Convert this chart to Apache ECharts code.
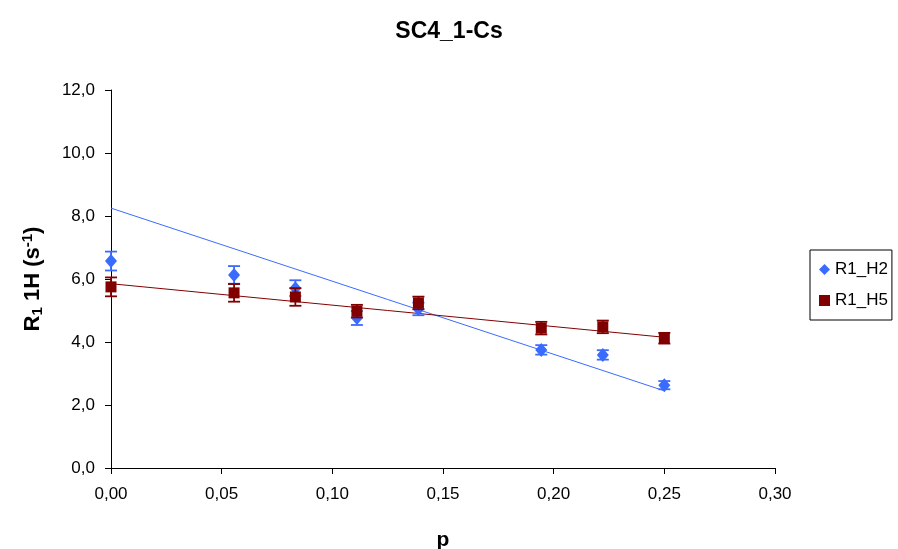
<!DOCTYPE html>
<html><head><meta charset="utf-8">
<script src="https://cdn.jsdelivr.net/npm/echarts@6/dist/echarts.min.js"></script>
<style>html,body{margin:0;padding:0;background:#fff}#c{width:898px;height:549px}</style>
</head><body><div id="c"></div>
<script>
var pValues = [0, 0.0556, 0.0833, 0.1111, 0.1389, 0.1944, 0.2222, 0.25];
var h2Values = [6.57, 6.13, 5.71, 4.76, 5.05, 3.75, 3.59, 2.63];
var h2Errors = [0.30, 0.28, 0.25, 0.22, 0.20, 0.15, 0.15, 0.13];
var h5Values = [5.75, 5.56, 5.43, 4.98, 5.24, 4.44, 4.48, 4.12];
var h5Errors = [0.30, 0.28, 0.28, 0.20, 0.20, 0.20, 0.20, 0.17];
var trendH2 = [[0, 8.25], [0.25, 2.45]];
var trendH5 = [[0, 5.85], [0.25, 4.15]];
var seriesNames = ['R1_H2', 'R1_H5'];
var titleText = 'SC4_1-Cs';

var blue = '#3A6BFF', red = '#800000';
var font = 'Liberation Sans, Arial, sans-serif';

function pts(vals){ return pValues.map(function(p,i){ return [p, vals[i]]; }); }
function errData(vals, errs){ return pValues.map(function(p,i){ return [p, vals[i]-errs[i], vals[i]+errs[i]]; }); }
function errRender(color){
  return function(params, api){
    var lo = api.coord([api.value(0), api.value(1)]);
    var hi = api.coord([api.value(0), api.value(2)]);
    var w = 6;
    var st = {stroke: color, lineWidth: 1.8};
    return {type:'group', children:[
      {type:'line', shape:{x1:lo[0],y1:lo[1],x2:hi[0],y2:hi[1]}, style:st},
      {type:'line', shape:{x1:lo[0]-w,y1:lo[1],x2:lo[0]+w,y2:lo[1]}, style:st},
      {type:'line', shape:{x1:hi[0]-w,y1:hi[1],x2:hi[0]+w,y2:hi[1]}, style:st}
    ]};
  };
}

var chart = echarts.init(document.getElementById('c'));
chart.setOption({
  animation:false,
  title:{text:titleText, left:'center', top:15, textStyle:{fontFamily:font, fontSize:23, fontWeight:'bold', color:'#000'}},
  grid:{left:111, right:123, top:90, bottom:81, outerBoundsMode:'none', containLabel:false},
  legend:{
    orient:'vertical', left:810, top:250, itemGap:14,
    borderColor:'#000', borderWidth:1, padding:[11,4,11,9],
    itemWidth:11, itemHeight:11,
    textStyle:{fontFamily:font, fontSize:17, color:'#000'},
    data:[{name:seriesNames[0], icon:'diamond'},{name:seriesNames[1], icon:'rect'}]
  },
  xAxis:{
    type:'value', min:0, max:0.30, interval:0.05,
    name:'p', nameLocation:'middle', nameGap:62,
    nameTextStyle:{fontFamily:font, fontSize:21, fontWeight:'bold', color:'#000'},
    axisLine:{lineStyle:{color:'#000', width:1}},
    axisTick:{show:true, inside:false, length:6, lineStyle:{color:'#000'}},
    axisLabel:{fontFamily:font, fontSize:17, color:'#000', margin:18, formatter:function(v){return v.toFixed(2).replace('.',',');}},
    splitLine:{show:false}
  },
  yAxis:{
    type:'value', min:0, max:12, interval:2,
    name:'{b|R}{s|1}{b| 1H (s}{u|-1}{b|)}', nameLocation:'middle', nameGap:66, nameRotate:90,
    nameTextStyle:{rich:{
      b:{fontFamily:font, fontSize:22, fontWeight:'bold', color:'#000'},
      s:{fontFamily:font, fontSize:15, fontWeight:'bold', color:'#000', verticalAlign:'bottom', padding:[8,0,0,0]},
      u:{fontFamily:font, fontSize:15, fontWeight:'bold', color:'#000', verticalAlign:'top', padding:[0,0,10,0]}
    }},
    axisLine:{show:true, lineStyle:{color:'#000', width:1}},
    axisTick:{show:true, inside:false, length:6, lineStyle:{color:'#000'}},
    axisLabel:{fontFamily:font, fontSize:17, color:'#000', margin:16, formatter:function(v){return v.toFixed(1).replace('.',',');}},
    splitLine:{show:false}
  },
  series:[
    {type:'line', data:trendH2, symbol:'none', lineStyle:{color:blue, width:1}, silent:true, z:2},
    {type:'custom', data:errData(h2Values,h2Errors), renderItem:errRender(blue), z:3, encode:{x:0,y:[1,2]}},
    {name:seriesNames[0], type:'scatter', data:pts(h2Values), symbol:'diamond', symbolSize:[12,14], itemStyle:{color:blue, opacity:1}, z:4},
    {type:'line', data:trendH5, symbol:'none', lineStyle:{color:red, width:1}, silent:true, z:2},
    {type:'custom', data:errData(h5Values,h5Errors), renderItem:errRender(red), z:5, encode:{x:0,y:[1,2]}},
    {name:seriesNames[1], type:'scatter', data:pts(h5Values), symbol:'rect', symbolSize:11, itemStyle:{color:red, opacity:1}, z:6}
  ]
});
</script></body></html>
